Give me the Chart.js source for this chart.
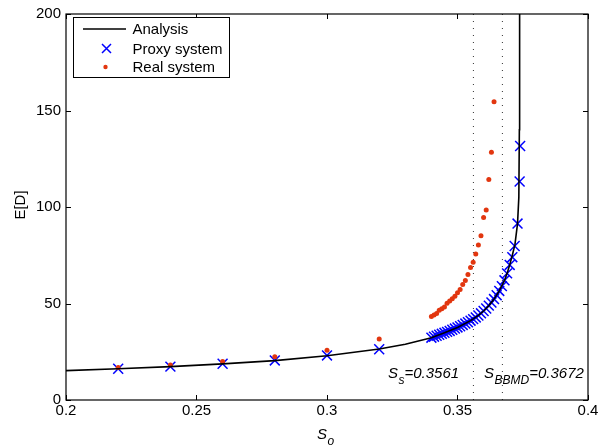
<!DOCTYPE html>
<html>
<head>
<meta charset="utf-8">
<script src="https://cdn.jsdelivr.net/npm/chart.js@4.4.1/dist/chart.umd.min.js"></script>
<style>
html,body{margin:0;padding:0;background:#fff;}
#wrap{position:relative;width:610px;height:446px;}
</style>
</head>
<body>
<div id="wrap"><canvas id="c" width="610" height="446"></canvas></div>
<script>
// ---- data ----
const xTicks = [0.2, 0.25, 0.3, 0.35, 0.4];
const xTickLabels = ['0.2', '0.25', '0.3', '0.35', '0.4'];
const yTicks = [0, 50, 100, 150, 200];
const yTickLabels = ['0', '50', '100', '150', '200'];

const analysisX = [0.200, 0.220, 0.240, 0.260, 0.280, 0.300, 0.320, 0.330, 0.340, 0.345, 0.350, 0.355, 0.358, 0.360, 0.362, 0.364, 0.366, 0.368, 0.369, 0.370, 0.371, 0.372, 0.373, 0.3735, 0.3737, 0.3738];
const analysisY = [15.2, 16.2, 17.3, 18.7, 20.4, 22.9, 26.4, 28.9, 32.3, 34.8, 37.6, 41.1, 43.8, 46.1, 48.9, 52.3, 56.5, 62.0, 65.6, 70.0, 75.0, 80.5, 91.4, 105, 140, 205];

const proxyX = [0.22, 0.24, 0.26, 0.28, 0.30, 0.32,
  0.340, 0.341, 0.342, 0.343, 0.344, 0.345, 0.346, 0.347, 0.348, 0.349,
  0.350, 0.351, 0.352, 0.353, 0.354, 0.355, 0.356, 0.357, 0.358, 0.359,
  0.360, 0.361, 0.362, 0.363, 0.364, 0.365, 0.366, 0.367, 0.368, 0.369,
  0.370, 0.371, 0.3719, 0.3730, 0.3738, 0.3740];
const proxyY = [16.2, 17.3, 18.8, 20.5, 23.1, 26.3,
  32.3, 32.8, 33.3, 33.8, 34.3, 34.8, 35.3, 35.8, 36.4, 37.0,
  37.6, 38.2, 38.9, 39.6, 40.3, 41.1, 41.9, 42.8, 43.8, 44.9,
  46.1, 47.4, 48.9, 50.5, 52.3, 54.3, 56.5, 59.0, 62.0, 65.6,
  70.0, 74.0, 79.8, 91.4, 113.2, 131.6];

const realX = [0.22, 0.24, 0.26, 0.28, 0.30, 0.32,
  0.340, 0.341, 0.342, 0.343, 0.344, 0.345, 0.346, 0.347, 0.348, 0.349,
  0.350, 0.351, 0.352, 0.353, 0.354, 0.355, 0.356, 0.357, 0.358, 0.359,
  0.360, 0.361, 0.362, 0.363, 0.364];
const realY = [16.8, 18.1, 20.0, 22.4, 25.8, 31.6,
  43.2, 44.1, 44.8, 46.5, 47.3, 48.2, 50.1, 51.3, 52.5, 53.8,
  55.6, 57.3, 59.8, 61.9, 65.0, 68.7, 71.4, 75.6, 80.3, 85.1,
  94.5, 98.4, 114.2, 128.4, 154.5];

const sS = 0.3561;
const sBBMD = 0.3672;
const yRange = [0, 200];

const seriesNames = ['Analysis', 'Proxy system', 'Real system'];

// ---- build ----
const toPts = (xs, ys) => xs.map((x, i) => ({x: x, y: ys[i]}));
const FONT = '"Liberation Sans", Arial, Helvetica, sans-serif';
const RED = '#e2360f';
const BLUE = '#0000ff';

const overlay = {
  id: 'overlay',
  afterDraw(chart) {
    const ctx = chart.ctx, ca = chart.chartArea;
    const xs = chart.scales.x, ys = chart.scales.y;
    ctx.save();
    // box
    ctx.strokeStyle = '#000';
    ctx.lineWidth = 1.2;
    ctx.strokeRect(ca.left, ca.top, ca.right - ca.left, ca.bottom - ca.top);
    // inward ticks
    ctx.lineWidth = 1;
    ctx.beginPath();
    xTicks.forEach(v => {
      const p = Math.round(xs.getPixelForValue(v)) + 0.5;
      ctx.moveTo(p, ca.bottom); ctx.lineTo(p, ca.bottom - 5);
      ctx.moveTo(p, ca.top); ctx.lineTo(p, ca.top + 5);
    });
    yTicks.forEach(v => {
      const p = Math.round(ys.getPixelForValue(v)) + 0.5;
      ctx.moveTo(ca.left, p); ctx.lineTo(ca.left + 5, p);
      ctx.moveTo(ca.right, p); ctx.lineTo(ca.right - 5, p);
    });
    ctx.stroke();

    // legend
    const lx = 73.5, ly = 17.5, lw = 156, lh = 60;
    ctx.fillStyle = '#fff';
    ctx.fillRect(lx, ly, lw, lh);
    ctx.strokeStyle = '#000';
    ctx.lineWidth = 1;
    ctx.strokeRect(lx, ly, lw, lh);
    ctx.font = '15px ' + FONT;
    ctx.fillStyle = '#000';
    ctx.textBaseline = 'middle';
    ctx.textAlign = 'left';
    const rows = [29, 48.5, 67];
    // analysis line sample
    ctx.beginPath(); ctx.lineWidth = 1.5; ctx.strokeStyle = '#000';
    ctx.moveTo(83, rows[0]); ctx.lineTo(126, rows[0]); ctx.stroke();
    // proxy marker
    ctx.beginPath(); ctx.lineWidth = 1.5; ctx.strokeStyle = BLUE;
    const mx = 106.5, my = rows[1], r = 4.5;
    ctx.moveTo(mx - r, my - r); ctx.lineTo(mx + r, my + r);
    ctx.moveTo(mx - r, my + r); ctx.lineTo(mx + r, my - r);
    ctx.stroke();
    // real marker
    ctx.beginPath(); ctx.fillStyle = RED;
    ctx.arc(105.5, rows[2], 2.2, 0, Math.PI * 2); ctx.fill();
    ctx.fillStyle = '#000';
    seriesNames.forEach((n, i) => ctx.fillText(n, 132.5, rows[i] + 1));

    // annotations
    function sub(x, y, main, subs, rest, fs, ss) {
      ctx.textBaseline = 'alphabetic';
      ctx.textAlign = 'left';
      ctx.font = 'italic ' + fs + 'px ' + FONT;
      ctx.fillText(main, x, y);
      let w = ctx.measureText(main).width;
      ctx.font = 'italic ' + ss + 'px ' + FONT;
      ctx.fillText(subs, x + w + 0.5, y + 6);
      w += ctx.measureText(subs).width + 0.5;
      if (rest) {
        ctx.font = 'italic ' + fs + 'px ' + FONT;
        ctx.fillText(rest, x + w, y);
      }
    }
    ctx.fillStyle = '#000';
    sub(388, 378, 'S', 's', '=' + sS.toFixed(4), 15, 12);
    sub(484, 378, 'S', 'BBMD', '=' + sBBMD.toFixed(4), 15, 12);
    sub(317, 439, 'S', 'o', '', 15, 12);

    // y axis title
    ctx.save();
    ctx.translate(21, 205);
    ctx.rotate(-Math.PI / 2);
    ctx.font = '15px ' + FONT;
    ctx.textAlign = 'center';
    ctx.textBaseline = 'middle';
    ctx.fillText('E[D]', 0, 0);
    ctx.restore();

    ctx.restore();
  }
};

new Chart(document.getElementById('c'), {
  type: 'scatter',
  data: {
    datasets: [
      {
        label: seriesNames[0],
        data: toPts(analysisX, analysisY),
        showLine: true,
        borderColor: '#000',
        borderWidth: 1.6,
        pointRadius: 0,
        tension: 0
      },
      {
        label: seriesNames[2],
        data: toPts(realX, realY),
        pointStyle: 'circle',
        pointRadius: 2.5,
        pointBackgroundColor: RED,
        pointBorderWidth: 0,
        borderColor: RED
      },
      {
        label: seriesNames[1],
        data: toPts(proxyX, proxyY),
        pointStyle: 'crossRot',
        pointRadius: 7,
        pointBorderColor: BLUE,
        pointBorderWidth: 1.5,
        borderColor: BLUE
      },
      {
        label: 'Ss',
        data: toPts([sS, sS], yRange),
        showLine: true,
        borderColor: '#333',
        borderWidth: 1,
        borderDash: [1, 6],
        pointRadius: 0
      },
      {
        label: 'SBBMD',
        data: toPts([sBBMD, sBBMD], yRange),
        showLine: true,
        borderColor: '#333',
        borderWidth: 1,
        borderDash: [1, 6],
        pointRadius: 0
      }
    ]
  },
  options: {
    responsive: false,
    animation: false,
    devicePixelRatio: 1,
    layout: {padding: {left: 0, right: 22, top: 10, bottom: 0}},
    plugins: {legend: {display: false}, tooltip: {enabled: false}},
    scales: {
      x: {
        type: 'linear', min: xTicks[0], max: xTicks[xTicks.length - 1],
        afterBuildTicks: s => { s.ticks = xTicks.map(v => ({value: v})); },
        afterFit: s => { s.height = 46; },
        ticks: {
          callback: (v) => { const i = xTicks.findIndex(t => Math.abs(t - v) < 1e-9); return i >= 0 ? xTickLabels[i] : ''; },
          font: {family: FONT, size: 15}, color: '#000', padding: 2, maxRotation: 0, autoSkip: false
        },
        grid: {display: false, drawTicks: false},
        border: {display: false}
      },
      y: {
        type: 'linear', min: yRange[0], max: yRange[1],
        afterBuildTicks: s => { s.ticks = yTicks.map(v => ({value: v})); },
        afterFit: s => { s.width = 66; },
        ticks: {
          callback: (v) => { const i = yTicks.indexOf(v); return i >= 0 ? yTickLabels[i] : ''; },
          font: {family: FONT, size: 15}, color: '#000', padding: 5, autoSkip: false
        },
        grid: {display: false, drawTicks: false},
        border: {display: false}
      }
    }
  },
  plugins: [overlay]
});
</script>
</body>
</html>
